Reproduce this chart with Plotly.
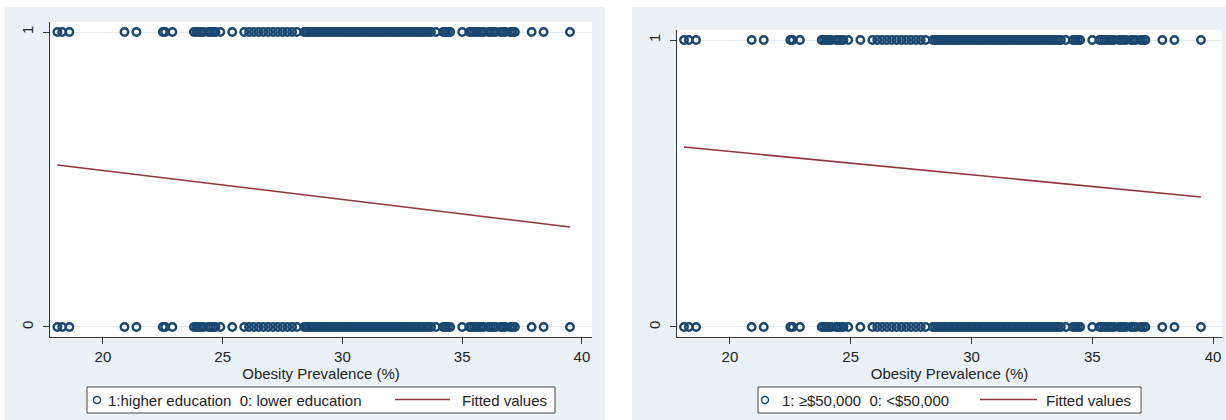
import plotly.graph_objects as go

# State-level obesity prevalence (%) observed in both outcome groups
obesity_pct = [
    18.1, 18.3, 18.6,
    20.9, 21.4,
    22.5, 22.6, 22.9,
    23.8, 23.9, 24.0, 24.1, 24.2, 24.4, 24.5, 24.6, 24.7, 24.9,
    25.4,
    25.9, 26.1, 26.3, 26.5, 26.7, 26.9, 27.1, 27.3, 27.5, 27.7, 27.9, 28.1,
    28.4, 28.5, 28.6, 28.7, 28.8, 28.9, 29.0, 29.1, 29.2, 29.3, 29.4, 29.5,
    29.6, 29.7, 29.8, 29.9, 30.0, 30.1, 30.2, 30.3, 30.4, 30.5, 30.6, 30.7,
    30.8, 30.9, 31.0, 31.1, 31.2, 31.3, 31.4, 31.5, 31.6, 31.7, 31.8, 31.9,
    32.0, 32.1, 32.2, 32.3, 32.4, 32.5, 32.6, 32.7, 32.8, 32.9, 33.0, 33.1,
    33.2, 33.3, 33.4, 33.5, 33.6, 33.7, 33.9,
    34.2, 34.3, 34.4, 34.5, 35.0, 35.3, 35.4, 35.5, 35.6, 35.7, 35.8, 35.9,
    36.1, 36.2, 36.3, 36.4, 36.6, 36.7, 36.8, 37.0, 37.1, 37.2,
    37.9, 38.4, 39.5,
]
outcome_levels = [1, 0]

# Linear fit (predicted probability) at the ends of the observed range
edu_fit_x = [18.1, 39.5]
edu_fit_y = [0.549, 0.339]
inc_fit_x = [18.1, 39.5]
inc_fit_y = [0.627, 0.453]

x_ticks = [20, 25, 30, 35, 40]
y_ticks = [0, 1]
x_title = "Obesity Prevalence (%)"
edu_label = "1:higher education  0: lower education"
inc_label = "1: ≥$50,000  0: <$50,000"
fit_label = "Fitted values"

W, H = 1226, 420
NAVY = "#1a476f"
MAROON = "#90353b"
REGION = "#eaf2f7"
INK = "#222222"
FONT = "Arial, Liberation Sans, sans-serif"


def px(x):
    return x / W


def py(y):
    return 1 - y / H


fig = go.Figure()

panels = [
    dict(xa="x", ya="y", fx=edu_fit_x, fy=edu_fit_y),
    dict(xa="x2", ya="y2", fx=inc_fit_x, fy=inc_fit_y),
]
for p in panels:
    xs, ys = [], []
    for lvl in outcome_levels:
        xs += obesity_pct
        ys += [lvl] * len(obesity_pct)
    fig.add_trace(go.Scatter(
        x=xs, y=ys, mode="markers", xaxis=p["xa"], yaxis=p["ya"],
        marker=dict(symbol="circle-open", size=7.5, color=NAVY,
                    line=dict(width=2.4, color=NAVY)),
        showlegend=False, hoverinfo="x+y",
    ))
    fig.add_trace(go.Scatter(
        x=p["fx"], y=p["fy"], mode="lines", xaxis=p["xa"], yaxis=p["ya"],
        line=dict(color=MAROON, width=1.6), showlegend=False,
    ))

shapes = []
# graph regions
for x0, x1 in [(5, 605), (632, 1226)]:
    shapes.append(dict(type="rect", xref="paper", yref="paper",
                       x0=px(x0), x1=px(x1), y0=py(420), y1=py(7),
                       fillcolor=REGION, line=dict(width=0), layer="below"))
# plot regions
for x0, x1, y1 in [(50, 592, 22), (677, 1222, 30)]:
    shapes.append(dict(type="rect", xref="paper", yref="paper",
                       x0=px(x0), x1=px(x1), y0=py(337), y1=py(y1),
                       fillcolor="white", line=dict(width=0), layer="below"))

annotations = []
legends = [
    dict(box=(87, 555), circ=97, text_x=106, label=edu_label, line=(395, 450), fit_x=460),
    dict(box=(758, 1141), circ=765, text_x=780, label=inc_label, line=(980, 1037), fit_x=1044),
]
for lg in legends:
    b0, b1 = lg["box"]
    shapes.append(dict(type="rect", xref="paper", yref="paper",
                       x0=px(b0), x1=px(b1), y0=py(413), y1=py(387),
                       fillcolor="white", line=dict(color="#444444", width=1)))
    c = lg["circ"]
    shapes.append(dict(type="circle", xref="paper", yref="paper",
                       x0=px(c - 3.5), x1=px(c + 3.5), y0=py(403.5), y1=py(396.5),
                       line=dict(color=NAVY, width=1.4)))
    l0, l1 = lg["line"]
    shapes.append(dict(type="line", xref="paper", yref="paper",
                       x0=px(l0), x1=px(l1), y0=py(399.5), y1=py(399.5),
                       line=dict(color=MAROON, width=1.6)))
    annotations.append(dict(xref="paper", yref="paper", x=px(lg["text_x"]), y=py(400),
                            xanchor="left", yanchor="middle", showarrow=False,
                            text=lg["label"], font=dict(size=15, color=INK, family=FONT)))
    annotations.append(dict(xref="paper", yref="paper", x=px(lg["fit_x"]), y=py(400),
                            xanchor="left", yanchor="middle", showarrow=False,
                            text=fit_label, font=dict(size=15, color=INK, family=FONT)))

xaxis_common = dict(
    tickvals=x_ticks, ticks="outside", ticklen=6, tickcolor="#333333",
    showline=True, linecolor="#333333", linewidth=1,
    showgrid=False, zeroline=False,
    tickfont=dict(size=15, color=INK, family=FONT),
    title=dict(text=x_title, font=dict(size=15, color=INK, family=FONT), standoff=0),
)
yaxis_common = dict(
    tickvals=y_ticks, ticks="outside", ticklen=6, tickcolor="#333333", tickangle=-90,
    showline=True, linecolor="#333333", linewidth=1,
    showgrid=True, gridcolor="#e2eaef", gridwidth=1, zeroline=False,
    tickfont=dict(size=15, color=INK, family=FONT), ticklabelstandoff=4,
)

fig.update_layout(
    width=W, height=H,
    margin=dict(l=0, r=0, t=0, b=0),
    paper_bgcolor="white", plot_bgcolor="rgba(0,0,0,0)",
    font=dict(family=FONT, color=INK),
    xaxis=dict(domain=[px(50), px(592)], range=[17.79, 40.42], anchor="y", **xaxis_common),
    yaxis=dict(domain=[py(337), py(22)], range=[-0.034, 1.034], anchor="x", **yaxis_common),
    xaxis2=dict(domain=[px(677), px(1222)], range=[17.81, 40.37], anchor="y2", **xaxis_common),
    yaxis2=dict(domain=[py(337), py(30)], range=[-0.035, 1.035], anchor="x2", **yaxis_common),
    shapes=shapes,
    annotations=annotations,
    showlegend=False,
)

fig.write_html("out.html")
